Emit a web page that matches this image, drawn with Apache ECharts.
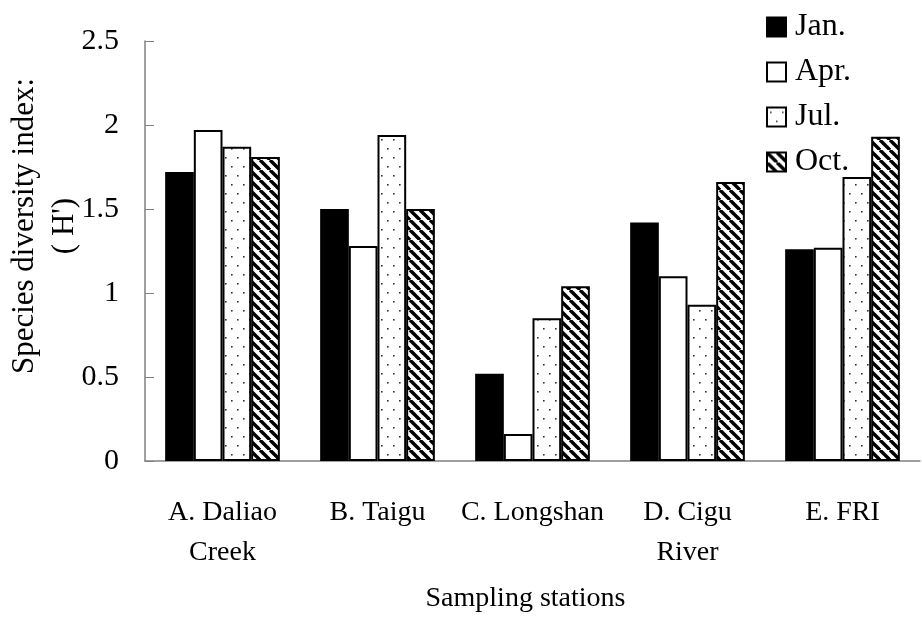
<!DOCTYPE html>
<html><head><meta charset="utf-8">
<script src="https://cdn.jsdelivr.net/npm/echarts@6/dist/echarts.min.js"></script>
<style>html,body{margin:0;padding:0;background:#fff}#c{width:922px;height:622px}</style>
</head><body><div id="c"></div>
<script>
const categories = ['A. Daliao\nCreek', 'B. Taigu', 'C. Longshan', 'D. Cigu\nRiver', 'E. FRI'];
const seriesNames = ['Jan.', 'Apr.', 'Jul.', 'Oct.'];
const jan = [1.72, 1.50, 0.52, 1.42, 1.26];
const apr = [1.97, 1.28, 0.16, 1.10, 1.27];
const jul = [1.87, 1.94, 0.85, 0.93, 1.69];
const oct = [1.81, 1.50, 1.04, 1.66, 1.93];
const yTicks = [0, 0.5, 1, 1.5, 2, 2.5];

function stripes() {
  const s = 10, c = document.createElement('canvas');
  c.width = s; c.height = s;
  const g = c.getContext('2d');
  g.fillStyle = '#fff'; g.fillRect(0, 0, s, s);
  g.strokeStyle = '#000'; g.lineWidth = 3.4;
  for (const o of [-s, 0, s]) {
    g.beginPath(); g.moveTo(o, 0); g.lineTo(o + s, s); g.stroke();
  }
  return c;
}
function dots() {
  const c = document.createElement('canvas');
  c.width = 12; c.height = 18;
  const g = c.getContext('2d');
  g.fillStyle = '#fff'; g.fillRect(0, 0, 12, 18);
  g.fillStyle = '#333';
  g.fillRect(3, 4, 1.6, 1.6);
  g.fillRect(9, 13, 1.6, 1.6);
  return c;
}
const fills = ['#000', '#fff', {image: dots(), repeat: 'repeat'}, {image: stripes(), repeat: 'repeat'}];
const values = [jan, apr, jul, oct];
const font = 'Liberation Serif';

const chart = echarts.init(document.getElementById('c'));
chart.setOption({
  animation: false,
  backgroundColor: '#fff',
  textStyle: {fontFamily: font},
  grid: {left: 145, right: 2, top: 41, bottom: 161, containLabel: false, outerBoundsMode: 'none'},
  legend: {
    orient: 'vertical', left: 761, top: 6,
    icon: 'rect',
    itemWidth: 19, itemHeight: 19, itemGap: 13,
    textStyle: {fontFamily: font, fontSize: 32, color: '#000', padding: [0, 0, 0, 4]},
    data: seriesNames
  },
  xAxis: {
    type: 'category', data: categories,
    axisLine: {lineStyle: {color: '#808080', width: 1.5}},
    axisTick: {inside: true, length: 10, lineStyle: {color: '#808080'}},
    axisLabel: {fontFamily: font, fontSize: 28, color: '#000', margin: 32, lineHeight: 40, interval: 0},
    name: 'Sampling stations', nameLocation: 'middle', nameGap: 124, nameMoveOverlap: false,
    nameTextStyle: {fontFamily: font, fontSize: 28, color: '#000', padding: [0, 14, 0, 0]}
  },
  yAxis: {
    type: 'value', min: yTicks[0], max: yTicks[yTicks.length - 1], interval: 0.5,
    splitLine: {show: false},
    axisLine: {show: true, lineStyle: {color: '#808080', width: 1.5}},
    axisTick: {show: true, inside: true, length: 9, lineStyle: {color: '#808080'}},
    axisLabel: {fontFamily: font, fontSize: 30, color: '#000', margin: 26},
    name: "Species diversity index:\n( H')", nameLocation: 'middle', nameGap: 60, nameMoveOverlap: false,
    nameTextStyle: {fontFamily: font, fontSize: 31, color: '#000', lineHeight: 40, padding: [0, 0, 0, 50]}
  },
  series: seriesNames.map((n, i) => ({
    name: n, type: 'bar', data: values[i],
    barGap: '0%', barCategoryGap: '26%',
    itemStyle: {color: fills[i], borderColor: '#000', borderWidth: 2}
  }))
});
</script></body></html>
